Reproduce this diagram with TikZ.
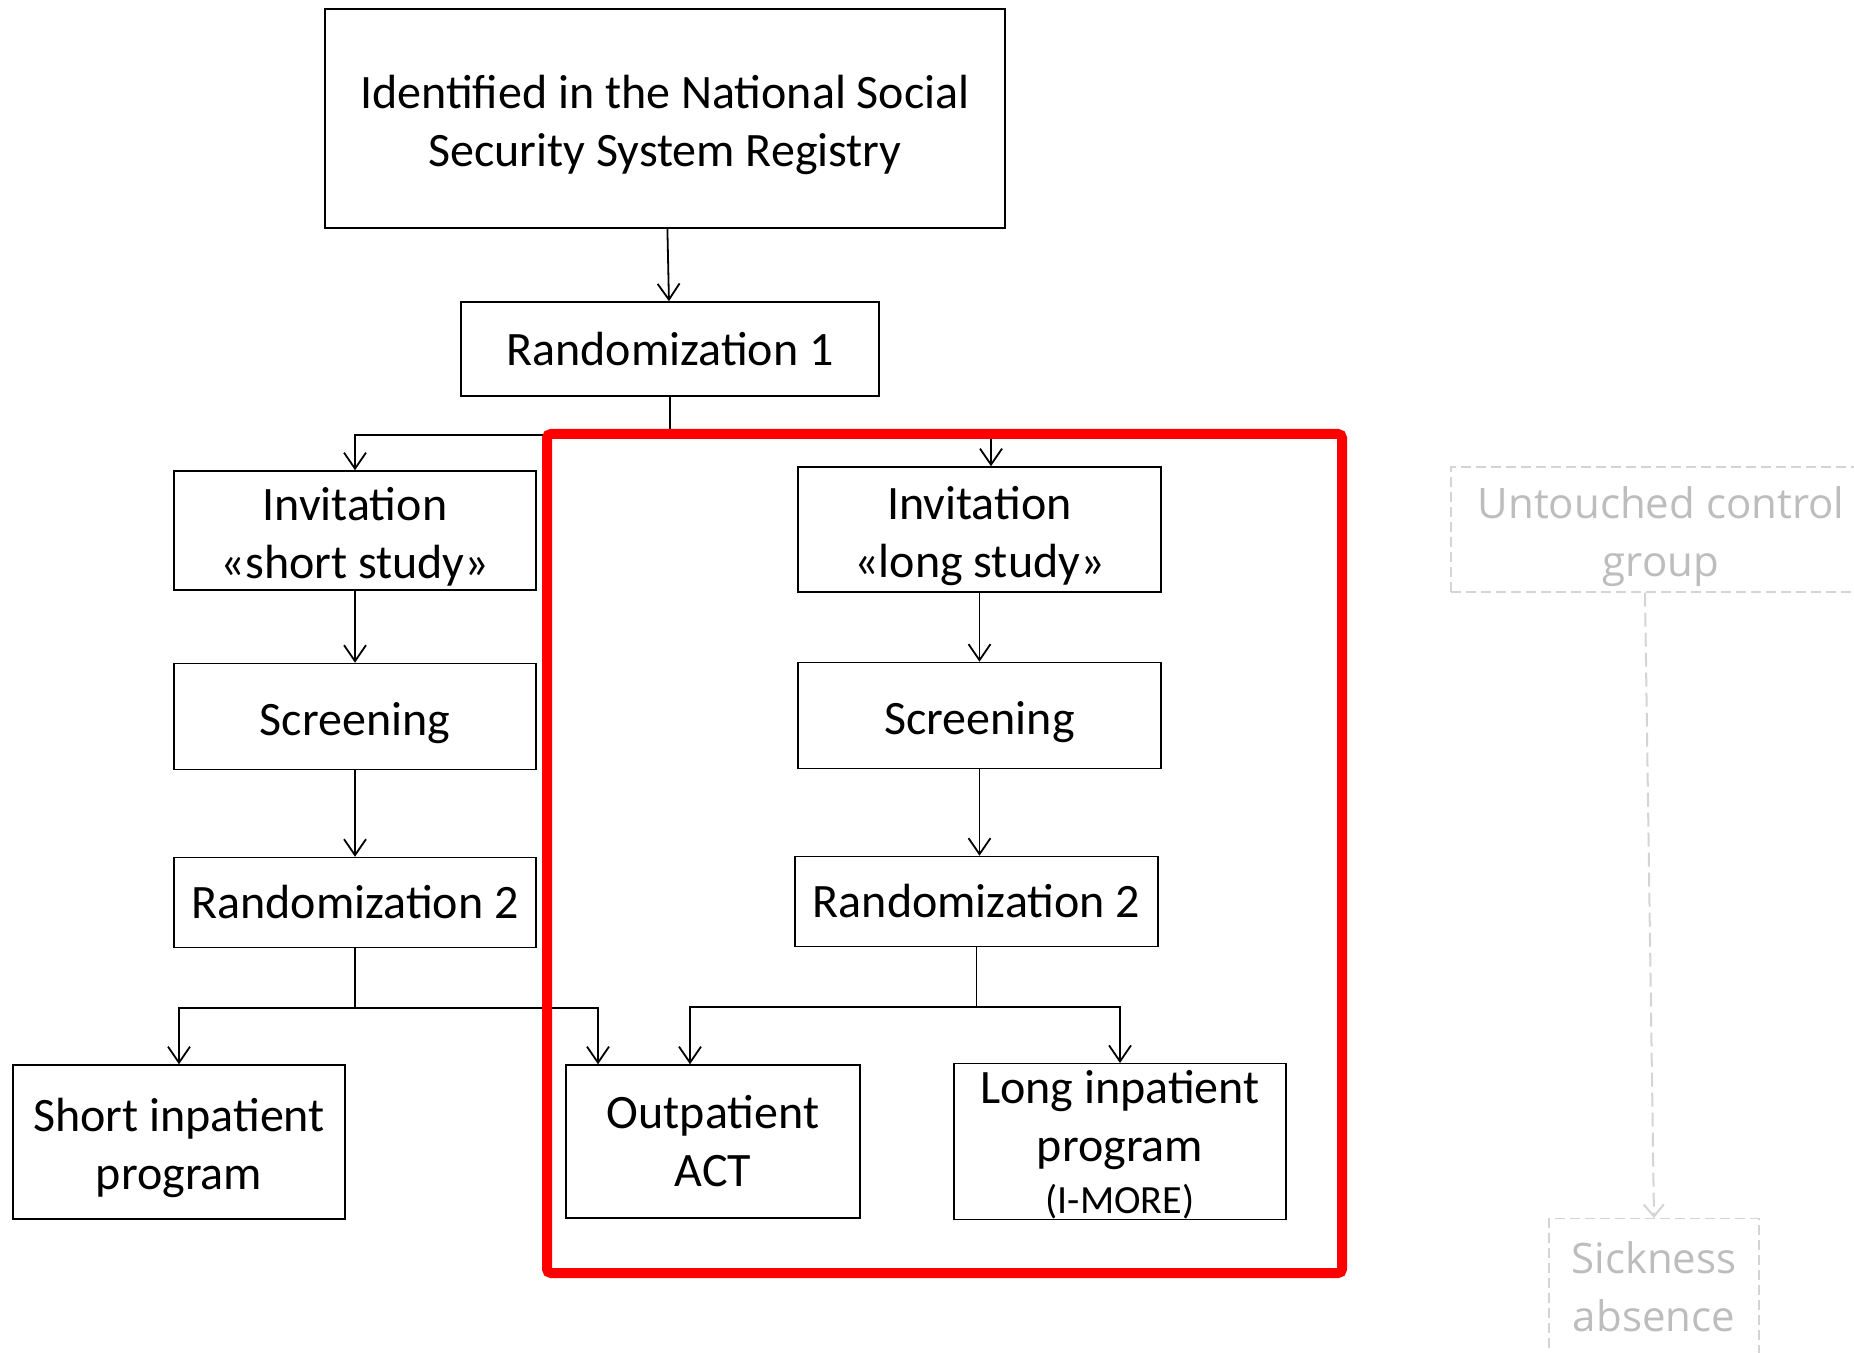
\documentclass[tikz,border=0pt]{standalone}
\usepackage{fontspec}
\setmainfont{Carlito}
\newfontfamily\greyfont{Open Sans}
\usetikzlibrary{positioning, arrows.meta, calc}
\newcommand\padtop{\rule{0pt}{23pt}}

\begin{document}
\begin{tikzpicture}
      [x=0.5pt, y=-0.5pt, node distance=93pt, text centered,
       box/.style={draw, rectangle, line width=0.75pt, inner sep=0pt, align=center,
                   font=\fontsize{24}{29}\selectfont},
       link/.style={line width=0.9pt},
       arr/.style={line width=0.9pt, -{Straight Barb[length=8pt,width=11pt]}},
       ghost/.style={draw=black!17, dashed, dash pattern=on 5pt off 2.5pt, line width=0.6pt,
                     text=black!26, inner sep=0pt, align=center,
                     font=\greyfont\fontsize{21}{29}\selectfont}]

      \useasboundingbox (0,0) rectangle (1854,1353);
      \clip (0,0) rectangle (1854,1353);

      %nodes
      \node[box, minimum width=340pt, minimum height=109.5pt] (registry) at (665,118.5)
            {\padtop Identified in the National Social\\Security System Registry};
      \node[box, minimum width=209pt, minimum height=47pt] (rand1) at (670,349) {Randomization 1};

      % short study column
      \node[box, minimum width=181pt, minimum height=59.5pt] (invS) at (355,530.5)
            {\padtop Invitation\\«short study»};
      \node[box, below of = invS, minimum width=181pt, minimum height=53pt] (scrS) {\padtop Screening};
      \node[box, below of = scrS, minimum width=181pt, minimum height=45pt] (randS) {Randomization 2};

      % long study column
      \node[box, minimum width=181.5pt, minimum height=62.5pt] (invL) at (979.5,529.5)
            {\padtop Invitation\\«long study»};
      \node[box, below of = invL, minimum width=181.5pt, minimum height=53pt] (scrL) {\padtop Screening};
      \node[box, below of = scrL, xshift=-1.5pt, minimum width=181.5pt, minimum height=45pt] (randL) {Randomization 2};

      % programs
      \node[box, minimum width=166pt, minimum height=77pt] (shortIn) at (179,1142)
            {\padtop Short inpatient\\program};
      \node[box, minimum width=147pt, minimum height=76.5pt] (outp) at (713,1141.5)
            {Outpatient\\ACT};
      \node[box, minimum width=166pt, minimum height=76.5pt] (longIn) at (1120,1141.5)
            {\rule{0pt}{20pt}Long inpatient\\program\\[-3pt]{\fontsize{20}{22}\selectfont(I-MORE)}};

      % control group
      \node[ghost, minimum width=210pt, minimum height=62.5pt] (ctrl) at (1661,529.5)
            {\padtop Untouched control\\group};
      \node[ghost, minimum width=105pt, minimum height=68pt, anchor=north] (sick) at (1654,1218)
            {Sickness\\absence};

      % edges %
      \draw[arr] (registry) -- (rand1);
      \draw[link] (rand1.south) -- ++(0,38) coordinate (split1);
      \draw[arr] (split1) -| (invS.north);
      \draw[arr] (split1) -| ([xshift=5.75pt]invL.north);
      \draw[arr] (invS) -- (scrS);
      \draw[arr] (scrS) -- (randS);
      \draw[arr] (invL) -- (scrL);
      \draw[arr] (scrL.south) -- (scrL.south |- randL.north);

      \draw[link] (randS.south) -- ++(0,60) coordinate (splitS);
      \draw[arr] (splitS) -| (shortIn.north);
      \draw[arr] (splitS) -| ([xshift=-57.5pt]outp.north);
      \draw[link] (randL.south) -- ++(0,60) coordinate (splitL);
      \draw[arr] (splitL) -| ([xshift=-11.5pt]outp.north);
      \draw[arr] (splitL) -| (longIn.north);

      \draw[draw=black!17, line width=1pt, dash pattern=on 7pt off 3pt,
            -{Straight Barb[length=6pt,width=10pt]}] (ctrl.south -| 1645,0) -- (sick.north);

      % long study frame
      \draw[red, line width=5pt, rounded corners=2pt] (547,434) rectangle (1342,1273);
    \end{tikzpicture}
\end{document}
